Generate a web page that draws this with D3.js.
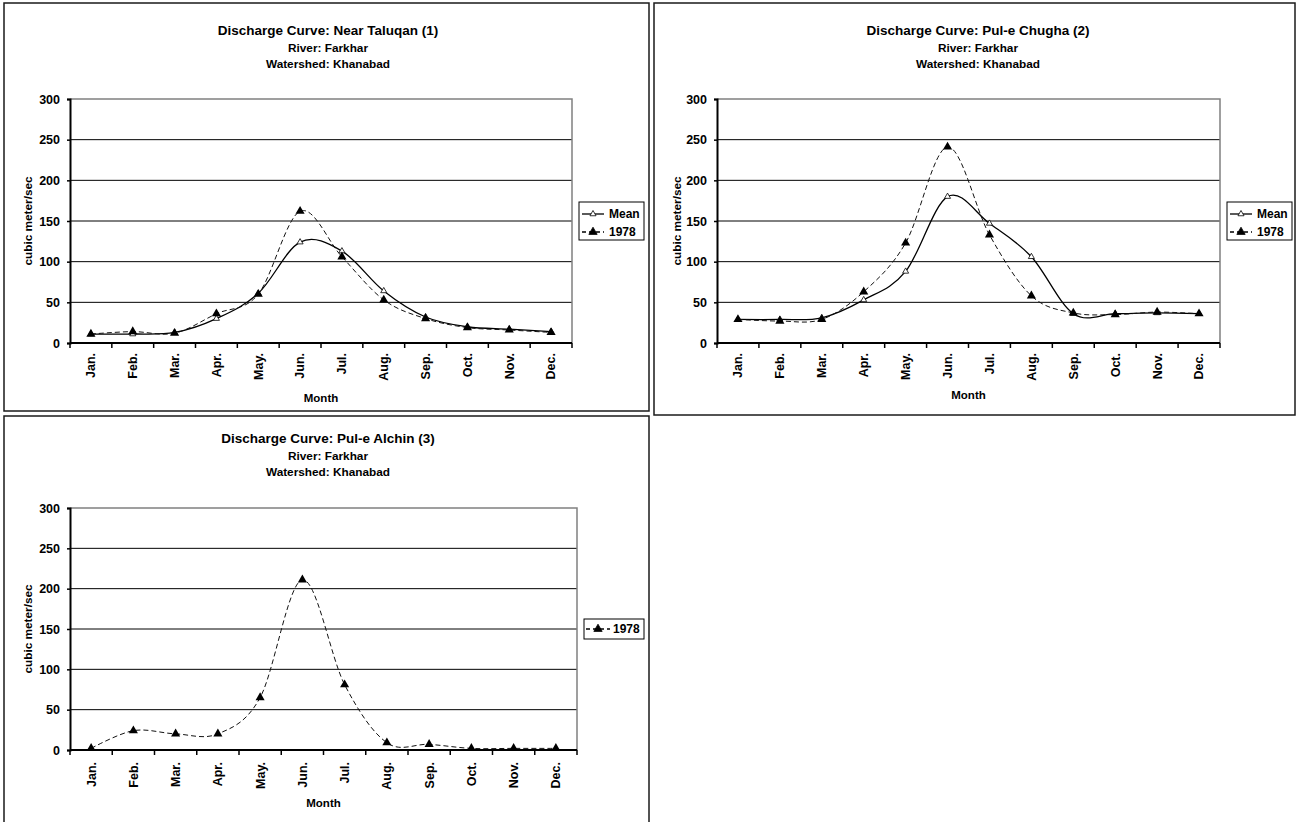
<!DOCTYPE html>
<html>
<head>
<meta charset="utf-8">
<script src="https://cdn.jsdelivr.net/npm/d3@7"></script>
<style>
  html, body { margin: 0; padding: 0; background: #fff; }
  svg { display: block; font-family: "Liberation Sans", Arial, sans-serif; font-weight: bold; }
</style>
</head>
<body>
<svg id="chart" width="1300" height="822"></svg>
<script>
// ---------------- data ----------------
const months = ["Jan.", "Feb.", "Mar.", "Apr.", "May.", "Jun.", "Jul.", "Aug.", "Sep.", "Oct.", "Nov.", "Dec."];
const yTicks = [0, 50, 100, 150, 200, 250, 300];

const taluqanMean = [11, 11, 13, 30, 61, 124, 113, 64, 32, 20, 17, 14];
const taluqan1978 = [11, 14, 12, 36, 60, 162, 106, 53, 30, 19, 16, 13];

const chughaMean = [29, 29, 31, 53, 88, 180, 147, 106, 36, 36, 37, 36];
const chugha1978 = [29, 27, 29, 63, 123, 241, 133, 58, 37, 35, 38, 36];

const alchin1978 = [2, 24, 20, 20, 65, 211, 81, 9, 7, 2, 2, 2];

const titles1 = ["Discharge Curve: Near Taluqan (1)", "River: Farkhar", "Watershed: Khanabad"];
const titles2 = ["Discharge Curve: Pul-e Chugha (2)", "River: Farkhar", "Watershed: Khanabad"];
const titles3 = ["Discharge Curve: Pul-e Alchin (3)", "River: Farkhar", "Watershed: Khanabad"];
const seriesNames = ["Mean", "1978"];
const xTitle = "Month";
const yTitle = "cubic meter/sec";

// ---------------- layout ----------------
const svg = d3.select("#chart");

function drawChart(cfg) {
  const g = svg.append("g");
  // panel frame
  g.append("rect")
    .attr("x", cfg.panel[0]).attr("y", cfg.panel[1])
    .attr("width", cfg.panel[2]).attr("height", cfg.panel[3])
    .attr("fill", "none").attr("stroke", "#1a1a1a").attr("stroke-width", 1.5);

  const x = d3.scaleBand().domain(months).range([cfg.plot.x0, cfg.plot.x1]).padding(0);
  const y = d3.scaleLinear().domain([0, 300]).range([cfg.plot.y0, cfg.plot.y1]);
  const cx = m => x(m) + x.bandwidth() / 2;

  // titles
  cfg.titles.forEach((t, i) => {
    g.append("text")
      .attr("x", cfg.titleX).attr("y", cfg.titleY[i])
      .attr("text-anchor", "middle")
      .attr("font-size", i === 0 ? 13.5 : 11.8)
      .text(t);
  });

  // gridlines
  g.append("g").selectAll("line").data(yTicks.filter(v => v > 0 && v < 300)).join("line")
    .attr("x1", cfg.plot.x0).attr("x2", cfg.plot.x1)
    .attr("y1", d => y(d)).attr("y2", d => y(d))
    .attr("stroke", "#000").attr("stroke-width", 1);

  // plot frame top & right (grey)
  g.append("path")
    .attr("d", `M${cfg.plot.x0},${y(300)}H${cfg.plot.x1}V${y(0)}`)
    .attr("fill", "none").attr("stroke", "#808080").attr("stroke-width", 1.5);

  // y axis
  const ya = g.append("g").attr("transform", `translate(${cfg.plot.x0},0)`)
    .call(d3.axisLeft(y).tickValues(yTicks).tickSize(3).tickPadding(7));
  ya.select(".domain").attr("stroke", "#000").attr("stroke-width", 2);
  ya.selectAll(".tick line").attr("stroke", "#000").attr("stroke-width", 1.5);
  ya.selectAll(".tick text").attr("font-size", 12.5).attr("font-family", null).attr("font-weight", "bold").attr("fill", "#000");
  ya.attr("font-family", null);

  // x axis (ticks at category boundaries)
  const xa = g.append("g");
  xa.append("line")
    .attr("x1", cfg.plot.x0).attr("x2", cfg.plot.x1)
    .attr("y1", y(0)).attr("y2", y(0))
    .attr("stroke", "#000").attr("stroke-width", 2);
  const bounds = months.map(m => x(m)).concat([cfg.plot.x1]);
  xa.selectAll("line.tk").data(bounds).join("line").attr("class", "tk")
    .attr("x1", d => d).attr("x2", d => d)
    .attr("y1", y(0)).attr("y2", y(0) + 5)
    .attr("stroke", "#000").attr("stroke-width", 1.5);
  xa.selectAll("text").data(months).join("text")
    .attr("transform", d => `translate(${cx(d)},${y(0) + cfg.monthGap}) rotate(-90)`)
    .attr("text-anchor", "end").attr("dy", "0.35em")
    .attr("font-size", 12.5)
    .text(d => d);

  // axis titles
  g.append("text")
    .attr("x", (cfg.plot.x0 + cfg.plot.x1) / 2).attr("y", cfg.monthY)
    .attr("text-anchor", "middle").attr("font-size", 11.5).text(xTitle);
  g.append("text")
    .attr("transform", `translate(${cfg.yTitleX},${(cfg.plot.y0 + cfg.plot.y1) / 2}) rotate(-90)`)
    .attr("text-anchor", "middle").attr("dy", "0.35em").attr("font-size", 11.8).text(yTitle);

  // series
  const line = d3.line().x((d, i) => cx(months[i])).y(d => y(d)).curve(d3.curveCardinal.tension(0));
  const tri = d3.symbol().type(d3.symbolTriangle);

  if (cfg.mean) {
    g.append("path").datum(cfg.mean).attr("d", line)
      .attr("fill", "none").attr("stroke", "#000").attr("stroke-width", 1.3);
    g.append("g").selectAll("path").data(cfg.mean).join("path")
      .attr("transform", (d, i) => `translate(${cx(months[i])},${y(d)})`)
      .attr("d", tri.size(16)())
      .attr("fill", "#fff").attr("stroke", "#000").attr("stroke-width", 0.8);
  }
  if (cfg.y1978) {
    g.append("path").datum(cfg.y1978).attr("d", line)
      .attr("fill", "none").attr("stroke", "#111").attr("stroke-width", 1)
      .attr("stroke-dasharray", "5,3");
    g.append("g").selectAll("path").data(cfg.y1978).join("path")
      .attr("transform", (d, i) => `translate(${cx(months[i])},${y(d)})`)
      .attr("d", tri.size(36)())
      .attr("fill", "#000");
  }

  // legend
  const L = cfg.legend;
  g.append("rect").attr("x", L.x).attr("y", L.y).attr("width", L.w).attr("height", L.h)
    .attr("fill", "#fff").attr("stroke", "#000").attr("stroke-width", 1);
  L.items.forEach((it, i) => {
    const ly = L.y + L.first + i * 18;
    const lg = g.append("g");
    lg.append("line").attr("x1", L.x + L.l0).attr("x2", L.x + L.l1).attr("y1", ly).attr("y2", ly)
      .attr("stroke", "#000").attr("stroke-width", it === "Mean" ? 1.3 : 1.5)
      .attr("stroke-dasharray", it === "Mean" ? null : "4,3");
    lg.append("path").attr("transform", `translate(${L.x + (L.l0 + L.l1) / 2},${ly})`)
      .attr("d", tri.size(it === "Mean" ? 16 : 30)())
      .attr("fill", it === "Mean" ? "#fff" : "#000").attr("stroke", "#000").attr("stroke-width", 0.8);
    lg.append("text").attr("x", L.x + L.tx).attr("y", ly).attr("dy", "0.35em")
      .attr("font-size", 12).text(it);
  });
}

drawChart({
  panel: [4, 3, 645, 408],
  plot: { x0: 70, x1: 572, y0: 343, y1: 99 },
  titles: titles1, titleX: 328, titleY: [35, 52, 68],
  monthGap: 10, monthY: 402, yTitleX: 28,
  mean: taluqanMean, y1978: taluqan1978,
  legend: { x: 579, y: 202, w: 65, h: 38, first: 12, l0: 3, l1: 25, tx: 30, items: seriesNames }
});

drawChart({
  panel: [654, 3, 641, 412],
  plot: { x0: 717, x1: 1220, y0: 343, y1: 99 },
  titles: titles2, titleX: 978, titleY: [35, 52, 68],
  monthGap: 10, monthY: 399, yTitleX: 677,
  mean: chughaMean, y1978: chugha1978,
  legend: { x: 1227, y: 202, w: 65, h: 38, first: 12, l0: 3, l1: 25, tx: 30, items: seriesNames }
});

drawChart({
  panel: [4, 416, 645, 420],
  plot: { x0: 70, x1: 577, y0: 750, y1: 508 },
  titles: titles3, titleX: 328, titleY: [443, 460, 476],
  monthGap: 12, monthY: 807, yTitleX: 28,
  mean: null, y1978: alchin1978,
  legend: { x: 584, y: 619, w: 60, h: 20, first: 10, l0: 2, l1: 26, tx: 29, items: ["1978"] }
});
</script>
</body>
</html>
